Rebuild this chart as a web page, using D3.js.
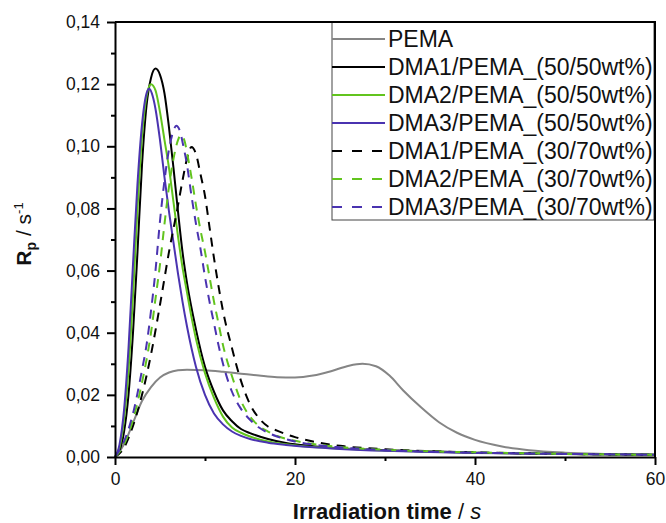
<!DOCTYPE html>
<html>
<head>
<meta charset="utf-8">
<script src="https://cdn.jsdelivr.net/npm/d3@7"></script>
<style>
    body { margin: 0; background: #fff; }
    text { font-family: "Liberation Sans", Arial, sans-serif; }
</style>
</head>
<body>
<script>
// data: [time in s, Rp in 1/s]
var pema = [[0, 0], [1, 0.004], [2, 0.011], [3, 0.018], [4, 0.0225], [5, 0.0256], [6, 0.0272], [7, 0.0279],
    [8, 0.0281], [10, 0.0279], [12, 0.0274], [14, 0.0268], [16, 0.0262], [18, 0.0257], [20, 0.0256],
    [22, 0.0262], [24, 0.0276], [26, 0.0294], [27.5, 0.0300], [29, 0.0292], [30.5, 0.0262], [32, 0.0215],
    [34, 0.0160], [36, 0.0112], [38, 0.0078], [40, 0.0055], [43, 0.0034], [46, 0.0022], [50, 0.0014],
    [55, 0.0010], [60, 0.0007]];

var dma1_50 = [[0, 0], [0.5, 0.002], [1, 0.008], [1.5, 0.02], [2, 0.04], [2.5, 0.066], [3, 0.094], [3.5, 0.113],
    [4, 0.122], [4.5, 0.125], [5, 0.123], [5.5, 0.117], [6, 0.106], [6.5, 0.093], [7, 0.079], [7.5, 0.066],
    [8, 0.056], [9, 0.041], [10, 0.029], [11, 0.021], [12, 0.015], [13, 0.0115], [14, 0.009], [15, 0.0077],
    [17, 0.0058], [19, 0.0045], [22, 0.0035], [25, 0.0028], [30, 0.0022], [35, 0.0018], [40, 0.0014],
    [50, 0.001], [60, 0.0007]];

var dma2_50 = [[0, 0], [0.5, 0.003], [1, 0.012], [1.5, 0.028], [2, 0.052], [2.5, 0.080], [3, 0.103], [3.5, 0.116],
    [4, 0.120], [4.5, 0.118], [5, 0.111], [5.5, 0.102], [6, 0.093], [6.5, 0.082], [7, 0.071], [7.5, 0.061],
    [8, 0.053], [8.5, 0.045], [9, 0.038], [10, 0.027], [11, 0.019], [12, 0.013], [13, 0.0095], [14, 0.0078],
    [15, 0.0066], [17, 0.005], [19, 0.0041], [22, 0.0032], [25, 0.0027], [30, 0.0021], [35, 0.0017],
    [40, 0.0014], [50, 0.001], [60, 0.0007]];

var dma3_50 = [[0, 0], [0.5, 0.004], [1, 0.015], [1.5, 0.035], [2, 0.062], [2.5, 0.088], [3, 0.107], [3.5, 0.117],
    [3.8, 0.1185], [4.2, 0.116], [4.5, 0.112], [5, 0.102], [5.5, 0.090], [6, 0.079], [6.5, 0.069], [7, 0.059],
    [7.5, 0.050], [8, 0.042], [8.5, 0.035], [9, 0.029], [10, 0.020], [11, 0.014], [12, 0.0105], [13, 0.0082],
    [14, 0.0068], [15, 0.0058], [17, 0.0046], [19, 0.0039], [22, 0.0031], [25, 0.0026], [30, 0.002],
    [35, 0.0016], [40, 0.0013], [50, 0.001], [60, 0.0007]];

var dma1_30 = [[0, 0], [1, 0.003], [2, 0.01], [3, 0.02], [4, 0.033], [5, 0.049], [6, 0.066], [7, 0.081],
    [7.5, 0.089], [8, 0.096], [8.5, 0.0998], [9, 0.0975], [9.5, 0.091], [10, 0.084], [10.5, 0.074], [11, 0.064],
    [11.5, 0.055], [12, 0.047], [13, 0.035], [14, 0.0245], [15, 0.017], [16, 0.0125], [17, 0.0098],
    [18, 0.0085], [20, 0.0064], [22, 0.005], [25, 0.0036], [30, 0.0025], [35, 0.0019], [40, 0.0015],
    [50, 0.001], [60, 0.0007]];

var dma2_30 = [[0, 0], [1, 0.004], [2, 0.012], [3, 0.024], [4, 0.04], [4.5, 0.051], [5, 0.062], [5.5, 0.075],
    [6, 0.087], [6.5, 0.096], [7, 0.102], [7.3, 0.1036], [7.7, 0.102], [8, 0.098], [8.5, 0.09], [9, 0.081],
    [9.5, 0.073], [10, 0.066], [10.5, 0.058], [11, 0.05], [11.5, 0.043], [12, 0.036], [13, 0.026], [14, 0.018],
    [15, 0.013], [16, 0.01], [17, 0.0082], [18, 0.0068], [20, 0.0052], [22, 0.0042], [25, 0.0032],
    [30, 0.0023], [35, 0.0018], [40, 0.0015], [50, 0.001], [60, 0.0007]];

var dma3_30 = [[0, 0], [1, 0.005], [2, 0.014], [3, 0.028], [3.5, 0.036], [4, 0.047], [4.5, 0.06], [5, 0.076],
    [5.5, 0.089], [6, 0.099], [6.5, 0.105], [6.8, 0.1066], [7.2, 0.105], [7.6, 0.1], [8, 0.094], [8.5, 0.084],
    [9, 0.075], [9.5, 0.067], [10, 0.058], [10.5, 0.05], [11, 0.043], [11.5, 0.036], [12, 0.03], [13, 0.021],
    [14, 0.0155], [15, 0.012], [16, 0.0095], [17, 0.0078], [18, 0.0066], [20, 0.005], [22, 0.004],
    [25, 0.0031], [30, 0.0022], [35, 0.0017], [40, 0.0014], [50, 0.001], [60, 0.0007]];

var seriesNames = ["PEMA", "DMA1/PEMA_(50/50wt%)", "DMA2/PEMA_(50/50wt%)", "DMA3/PEMA_(50/50wt%)",
    "DMA1/PEMA_(30/70wt%)", "DMA2/PEMA_(30/70wt%)", "DMA3/PEMA_(30/70wt%)"];
var seriesData = [pema, dma1_50, dma2_50, dma3_50, dma1_30, dma2_30, dma3_30];
var seriesColors = ["#858585", "#000000", "#62c41e", "#4a33b0", "#000000", "#62c41e", "#4a33b0"];
var seriesDashed = [false, false, false, false, true, true, true];

var xTicks = [0, 20, 40, 60];
var xMinor = [10, 30, 50];
var yTicks = [0, 0.02, 0.04, 0.06, 0.08, 0.10, 0.12, 0.14];
var yMinor = [0.01, 0.03, 0.05, 0.07, 0.09, 0.11, 0.13];

var width = 666, height = 523;
// plot box (note: "top" is taken by window.top, so m-prefixed names)
var mLeft = 115, mRight = 655, mTop = 22, mBottom = 457;

var comma = d3.formatLocale({decimal: ",", thousands: ".", grouping: [3], currency: ["", ""]});

var svg = d3.select("body").append("svg").attr("width", width).attr("height", height);

var x = d3.scaleLinear().domain([0, 60]).range([mLeft, mRight]);
var y = d3.scaleLinear().domain([0, 0.14]).range([mBottom, mTop]);

// lines go first, frame and axes on top
var line = d3.line()
    .x(function (d) { return x(d[0]); })
    .y(function (d) { return y(d[1]); })
    .curve(d3.curveMonotoneX);

var plot = svg.append("g").attr("class", "lines");
for (var j = 0; j < seriesData.length; j++) {
    plot.append("path")
        .attr("d", line(seriesData[j]))
        .attr("fill", "none")
        .attr("stroke", seriesColors[j])
        .attr("stroke-width", 2)
        .attr("stroke-dasharray", seriesDashed[j] ? "9,7" : null);
}

// minor ticks
svg.append("g")
    .attr("transform", "translate(0," + mBottom + ")")
    .call(d3.axisBottom(x).tickValues(xMinor).tickSize(4).tickFormat(""))
    .call(function (g) { g.select(".domain").remove(); })
    .selectAll("line").attr("stroke-width", 2);
svg.append("g")
    .attr("transform", "translate(" + mLeft + ",0)")
    .call(d3.axisLeft(y).tickValues(yMinor).tickSize(4).tickFormat(""))
    .call(function (g) { g.select(".domain").remove(); })
    .selectAll("line").attr("stroke-width", 2);

var xAxis = svg.append("g")
    .attr("transform", "translate(0," + mBottom + ")")
    .call(d3.axisBottom(x).tickValues(xTicks).tickSize(8).tickSizeOuter(0).tickPadding(8).tickFormat(d3.format("d")));
var yAxis = svg.append("g")
    .attr("transform", "translate(" + mLeft + ",0)")
    .call(d3.axisLeft(y).tickValues(yTicks).tickSize(8).tickSizeOuter(0).tickPadding(7).tickFormat(comma.format(".2f")));

[xAxis, yAxis].forEach(function (g) {
    g.attr("font-size", 17.5).attr("font-family", "'Liberation Sans', Arial, sans-serif");
    g.select(".domain").attr("stroke-width", 2);
    g.selectAll("line").attr("stroke-width", 2);
    g.selectAll("text").attr("fill", "#111");
});

// axis titles
var xTitle = svg.append("text")
    .attr("x", (mLeft + mRight) / 2 + 2)
    .attr("y", 519)
    .attr("text-anchor", "middle")
    .style("font-size", "22px")
    .attr("fill", "#111");
xTitle.append("tspan").style("font-weight", "bold").text("Irradiation time ");
xTitle.append("tspan").text("/ ");
xTitle.append("tspan").style("font-style", "italic").text("s");

var yTitle = svg.append("text")
    .attr("transform", "translate(31,234) rotate(-90)")
    .attr("text-anchor", "middle")
    .style("font-size", "21px")
    .attr("fill", "#111");
yTitle.append("tspan").style("font-weight", "bold").text("R");
yTitle.append("tspan").style("font-weight", "bold").style("font-size", "14px").attr("dy", 5).text("p");
yTitle.append("tspan").attr("dy", -5).text(" / s");
yTitle.append("tspan").style("font-size", "13px").attr("dy", -8).text("-1");

// legend
var legend = svg.append("g").attr("class", "legend");
legend.append("rect")
    .attr("x", 332).attr("y", mTop)
    .attr("width", 322).attr("height", 198)
    .attr("fill", "#fff")
    .attr("stroke", "#444")
    .attr("stroke-width", 1);

var rowY = d3.scaleLinear().domain([0, 6]).range([39, 207]);
var rows = legend.selectAll("g.row")
    .data(seriesNames)
    .enter().append("g")
    .attr("class", "row")
    .attr("transform", function (d, i) { return "translate(0," + rowY(i) + ")"; });

rows.append("line")
    .attr("x1", 332).attr("x2", 385)
    .attr("stroke", function (d, i) { return seriesColors[i]; })
    .attr("stroke-width", 2)
    .attr("stroke-dasharray", function (d, i) { return seriesDashed[i] ? "10,10" : null; });

rows.append("text")
    .attr("x", 388)
    .attr("y", 8)
    .style("font-size", "23px")
    .attr("fill", "#111")
    .text(function (d) { return d; });

// top and right frame, drawn over the legend edge
svg.append("path")
    .attr("d", "M" + mLeft + "," + mTop + "H" + mRight + "V" + mBottom)
    .attr("fill", "none")
    .attr("stroke", "#000")
    .attr("stroke-width", 2);
</script>
</body>
</html>
